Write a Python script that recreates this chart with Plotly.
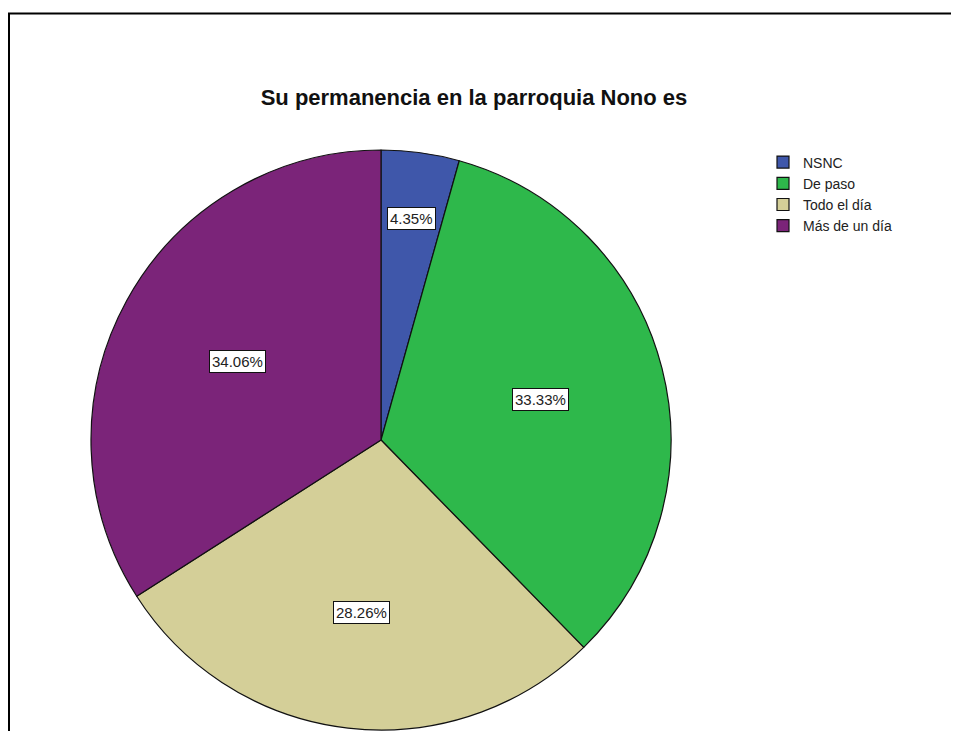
import math
import plotly.graph_objects as go

categories = ["NSNC", "De paso", "Todo el día", "Más de un día"]
counts = [6, 46, 39, 47]
colors = ["#3F57AA", "#2EB84B", "#D4CF98", "#7B2479"]
title_text = "Su permanencia en la parroquia Nono es"

# the page body has an 8px margin, so the figure is drawn 8px in from the window edge
OFF = 8
W, H = 959 - OFF, 731 - OFF


def px(x):  # page pixel x -> paper fraction
    return (x - OFF) / W


def py(y):  # page pixel y -> paper fraction
    return 1 - (y - OFF) / H


cx, cy, R = 381, 440, 290  # pie centre/radius in page pixels

fig = go.Figure()
fig.add_trace(go.Pie(
    labels=categories,
    values=counts,
    sort=False,
    direction="clockwise",
    rotation=0,
    marker=dict(colors=colors, line=dict(color="#111111", width=1.2)),
    textinfo="none",
    hoverinfo="label+percent",
    domain=dict(x=[px(cx - R), px(cx + R)], y=[py(cy + R), py(cy - R)]),
))

# percentage labels in white boxes, placed at each slice's centroid
# (small slices pushed outwards so the box fits)
total = sum(counts)
cum = 0
annotations = []
for v in counts:
    share = v / total
    half = share * math.pi
    mid = cum * 2 * math.pi + half
    cum += share
    f = 1.03 * (2 / 3) * math.sin(half) / half
    if share < 0.1:
        f = 0.77
    lx = cx + R * f * math.sin(mid)
    ly = cy - R * f * math.cos(mid)
    annotations.append(dict(
        x=px(lx), y=py(ly), xref="paper", yref="paper",
        text=f"{share * 100:.2f}%", showarrow=False,
        font=dict(family="Liberation Sans, Arial", size=15, color="#222222"),
        bgcolor="white", bordercolor="#111111", borderwidth=1, borderpad=2,
        xanchor="center", yanchor="middle",
    ))

fig.update_layout(
    width=W, height=H,
    margin=dict(l=0, r=0, t=0, b=0),
    paper_bgcolor="white",
    plot_bgcolor="white",
    title=dict(
        text="<b>" + title_text + "</b>", x=px(474), y=py(97), xanchor="center", yanchor="middle",
        xref="paper", yref="paper",
        font=dict(family="Liberation Sans, Arial", size=22, color="#111111"),
    ),
    legend=dict(
        x=px(763), y=py(146.5), xanchor="left", yanchor="top",
        font=dict(family="Liberation Sans, Arial", size=14, color="#222222"),
        bgcolor="rgba(0,0,0,0)", itemwidth=30,
    ),
    annotations=annotations,
    shapes=[
        dict(type="line", xref="paper", yref="paper", x0=0, x1=1, y0=py(13.5), y1=py(13.5),
             line=dict(color="black", width=2)),
        dict(type="line", xref="paper", yref="paper", x0=1 / W, x1=1 / W, y0=0, y1=py(13),
             line=dict(color="black", width=2)),
    ],
)

fig.write_html("out.html")
